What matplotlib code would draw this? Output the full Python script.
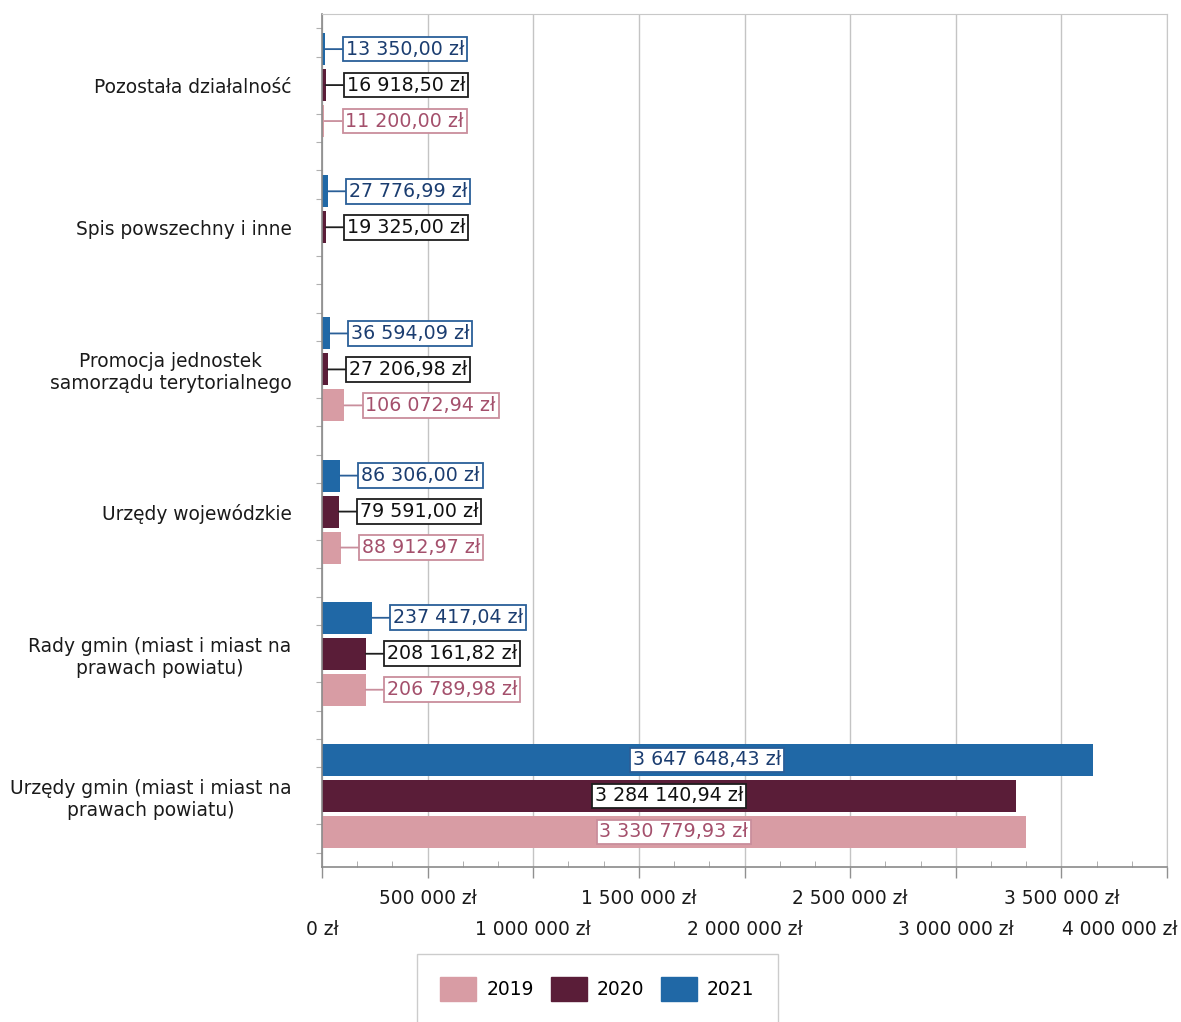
import numpy as np
import matplotlib
matplotlib.use("Agg")
import matplotlib.pyplot as plt
from matplotlib.patches import Patch
from matplotlib.ticker import MultipleLocator
from matplotlib.transforms import ScaledTranslation

categories = [
    "Pozostała działalność",
    "Spis powszechny i inne",
    "Promocja jednostek\nsamorządu terytorialnego",
    "Urzędy wojewódzkie",
    "Rady gmin (miast i miast na\nprawach powiatu)",
    "Urzędy gmin (miast i miast na\nprawach powiatu)",
]
years = ["2019", "2020", "2021"]
v2019 = [11200.00, None, 106072.94, 88912.97, 206789.98, 3330779.93]
v2020 = [16918.50, 19325.00, 27206.98, 79591.00, 208161.82, 3284140.94]
v2021 = [13350.00, 27776.99, 36594.09, 86306.00, 237417.04, 3647648.43]
x_ticks = np.arange(0, 4000001, 500000)

bar_colors = {"2019": "#d89ca4", "2020": "#5a1d38", "2021": "#2068a6"}
edge_colors = {"2019": "#c98e9c", "2020": "#1e1e1e", "2021": "#2a5f98"}
text_colors = {"2019": "#a4506c", "2020": "#111111", "2021": "#1b3d70"}
# 2021 on top of each group, 2019 at the bottom
offsets = {"2019": 0.253, "2020": 0.0, "2021": -0.253}
series = {"2019": v2019, "2020": v2020, "2021": v2021}


def pln(v, decimals=2):
    s = f"{v:,.{decimals}f}".replace(",", " ").replace(".", ",")
    return s + " zł"


fig = plt.figure(figsize=(11.81, 10.22), dpi=100)
ax = fig.add_axes([322 / 1181, 1 - 867 / 1022, (1167 - 322) / 1181, (867 - 14) / 1022])

y = np.arange(len(categories))
for yr in years:
    vals = series[yr]
    idx = [i for i, v in enumerate(vals) if v is not None]
    ys = y[idx] + offsets[yr]
    xs = [vals[i] for i in idx]
    ax.barh(ys, xs, height=0.225, color=bar_colors[yr], zorder=2)
    box = dict(boxstyle="square,pad=0.15", fc="white", ec=edge_colors[yr], lw=1.3)
    for yy, v in zip(ys, xs):
        if v > 1000000:
            ax.text(v / 2, yy, pln(v), ha="center", va="center", fontsize=13.7,
                    color=text_colors[yr], bbox=box, zorder=4)
        else:
            ax.annotate(pln(v), xy=(v, yy), xytext=(21, 0), textcoords="offset pixels",
                        ha="left", va="center", fontsize=13.7, color=text_colors[yr],
                        bbox=box, zorder=4,
                        arrowprops=dict(arrowstyle="-", color=edge_colors[yr], lw=1.3,
                                        shrinkA=0, shrinkB=0))

ax.set_xlim(0, 4000000)
ax.set_ylim(len(categories) - 0.5, -0.5)

# y axis: category names, faint minor ticks
ax.set_yticks(y)
ax.set_yticklabels(categories, fontsize=13.4, multialignment="center", color="#1a1a1a")
ax.tick_params(axis="y", which="major", length=0, pad=22)
ax.yaxis.set_minor_locator(MultipleLocator(0.2))
ax.tick_params(axis="y", which="minor", length=4, color="#b0b0b0", width=0.8)

# x axis: staggered labels
ax.set_xticks(x_ticks)
ax.set_xticklabels([pln(v, 0) for v in x_ticks], fontsize=13.4, color="#1a1a1a")
ax.tick_params(axis="x", which="major", length=8, color="#909090", width=1)
ax.xaxis.set_minor_locator(MultipleLocator(500000 / 3))
ax.tick_params(axis="x", which="minor", direction="in", length=4, color="#a0a0a0")
for i, t in enumerate(ax.xaxis.get_major_ticks()):
    t.set_pad(8 if i % 2 else 30)
last = ax.get_xticklabels()[-1]
last.set_horizontalalignment("right")
last.set_transform(last.get_transform() + ScaledTranslation(0.11, 0, fig.dpi_scale_trans))

ax.grid(axis="x", color="#c4c4c4", lw=1, zorder=0)
ax.set_axisbelow(True)
for side in ["top", "right"]:
    ax.spines[side].set_color("#c8c8c8")
for side in ["left", "bottom"]:
    ax.spines[side].set_color("#8a8a8a")
    ax.spines[side].set_linewidth(1.2)

handles = [Patch(color=bar_colors[yr], label=yr) for yr in years]
fig.legend(handles=handles, loc="upper left", bbox_to_anchor=(417 / 1181, 1 - 954 / 1022),
           ncol=3, fontsize=13.5, frameon=True, fancybox=False, edgecolor="#c0c0c0",
           handlelength=1.92, handleheight=1.55, handletextpad=0.53, columnspacing=0.9,
           borderpad=1.25, borderaxespad=0)

fig.savefig("out.png", dpi=100)
